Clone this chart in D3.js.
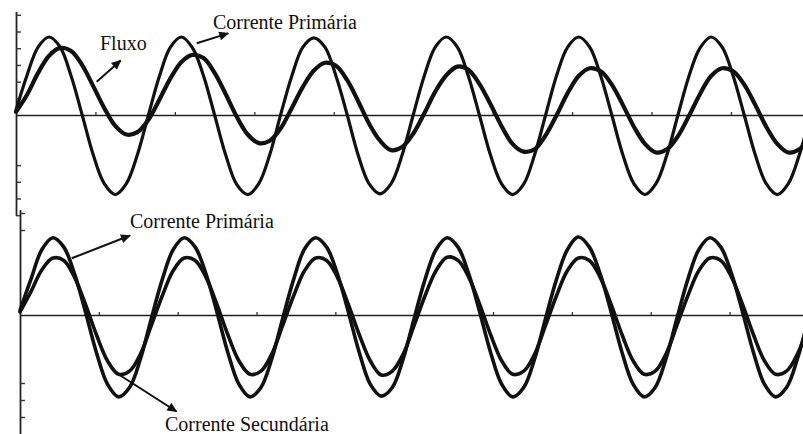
<!DOCTYPE html>
<html>
<head>
<meta charset="utf-8">
<script src="https://cdn.jsdelivr.net/npm/d3@7"></script>
<style>
  html, body { margin: 0; padding: 0; background: #fff; overflow: hidden; }
  svg { display: block; }
</style>
</head>
<body>
<svg id="chart" width="803" height="434"></svg>
<script>
// Sample instants in ms (60 Hz supply, one sample every 30 electrical degrees)
const timeMs = [
  0, 1.39, 2.78, 4.17, 5.56, 6.94, 8.33, 9.72, 11.11, 12.50, 13.89, 15.28,
  16.67, 18.06, 19.44, 20.83, 22.22, 23.61, 25.00, 26.39, 27.78, 29.17, 30.56, 31.94,
  33.33, 34.72, 36.11, 37.50, 38.89, 40.28, 41.67, 43.06, 44.44, 45.83, 47.22, 48.61,
  50.00, 51.39, 52.78, 54.17, 55.56, 56.94, 58.33, 59.72, 61.11, 62.50, 63.89, 65.28,
  66.67, 68.06, 69.44, 70.83, 72.22, 73.61, 75.00, 76.39, 77.78, 79.17, 80.56, 81.94,
  83.33, 84.72, 86.11, 87.50, 88.89, 90.28, 91.67, 93.06, 94.44, 95.83, 97.22, 98.61,
  100.00
];

// Upper oscillogram: primary current and core flux (per unit)
const primaryTop = [
  0.06, 0.51, 0.87, 1.00, 0.87, 0.50, 0.00, -0.51, -0.88, -1.02, -0.88, -0.51,
  0.00, 0.50, 0.87, 1.00, 0.86, 0.50, 0.00, -0.51, -0.89, -1.02, -0.88, -0.51,
  0.01, 0.50, 0.87, 0.99, 0.87, 0.50, 0.01, -0.51, -0.88, -1.01, -0.88, -0.51,
  0.00, 0.50, 0.87, 1.00, 0.87, 0.50, 0.00, -0.51, -0.88, -1.02, -0.89, -0.51,
  0.00, 0.51, 0.87, 1.00, 0.87, 0.50, 0.00, -0.51, -0.88, -1.02, -0.88, -0.51,
  0.00, 0.50, 0.86, 1.00, 0.87, 0.50, 0.00, -0.51, -0.88, -1.02, -0.88, -0.51,
  0.00
];
const fluxTop = [
  0.04, 0.26, 0.54, 0.76, 0.86, 0.82, 0.64, 0.37, 0.09, -0.14, -0.25, -0.22,
  -0.06, 0.20, 0.47, 0.68, 0.77, 0.73, 0.54, 0.27, -0.02, -0.25, -0.36, -0.33,
  -0.17, 0.09, 0.36, 0.57, 0.67, 0.63, 0.45, 0.18, -0.11, -0.33, -0.45, -0.41,
  -0.24, 0.02, 0.30, 0.51, 0.62, 0.58, 0.40, 0.14, -0.14, -0.37, -0.47, -0.44,
  -0.26, 0.00, 0.28, 0.50, 0.60, 0.56, 0.39, 0.13, -0.15, -0.37, -0.48, -0.44,
  -0.27, -0.01, 0.27, 0.50, 0.60, 0.56, 0.39, 0.13, -0.15, -0.37, -0.48, -0.44,
  -0.27
];

// Lower oscillogram: primary and secondary currents (per unit)
const primaryBottom = [
  0.06, 0.46, 0.84, 0.99, 0.87, 0.52, 0.03, -0.49, -0.89, -1.05, -0.93, -0.56,
  -0.04, 0.46, 0.84, 0.99, 0.87, 0.52, 0.03, -0.49, -0.89, -1.05, -0.93, -0.56,
  -0.04, 0.46, 0.85, 0.99, 0.87, 0.52, 0.03, -0.49, -0.89, -1.04, -0.93, -0.56,
  -0.04, 0.46, 0.84, 0.99, 0.87, 0.52, 0.03, -0.49, -0.89, -1.05, -0.93, -0.56,
  -0.04, 0.46, 0.84, 1.00, 0.87, 0.52, 0.03, -0.49, -0.89, -1.05, -0.93, -0.56,
  -0.04, 0.46, 0.84, 0.99, 0.87, 0.52, 0.03, -0.49, -0.89, -1.05, -0.93, -0.56,
  -0.04
];
const secondaryBottom = [
  0.04, 0.30, 0.58, 0.73, 0.70, 0.48, 0.13, -0.26, -0.59, -0.76, -0.72, -0.50,
  -0.13, 0.25, 0.57, 0.73, 0.70, 0.48, 0.13, -0.26, -0.59, -0.76, -0.72, -0.50,
  -0.13, 0.25, 0.57, 0.73, 0.70, 0.48, 0.13, -0.26, -0.59, -0.77, -0.72, -0.50,
  -0.13, 0.25, 0.57, 0.74, 0.70, 0.48, 0.13, -0.26, -0.59, -0.76, -0.72, -0.50,
  -0.13, 0.25, 0.57, 0.73, 0.70, 0.48, 0.13, -0.26, -0.59, -0.76, -0.72, -0.50,
  -0.13, 0.25, 0.57, 0.73, 0.70, 0.48, 0.13, -0.26, -0.59, -0.76, -0.72, -0.50,
  -0.13
];

// Graticule marks: time ticks (ms) and vertical divisions
const timeTicks = [10, 20, 30, 40, 50, 60, 70, 80, 90];
const divTicksTop = [6, 5, 4, 3, 2, 1, -3, -4, -5, -6];
const divTicksBottom = [6, 5, -4, -5, -6];

// Labelled arrows, in each trace's own (ms, per unit) coordinates
const notes = [
  { panel: 0, text: "Fluxo", at: [10.57, 0.833], tail: [10.16, 0.427], head: [13.18, 0.699] },
  { panel: 0, text: "Corrente Primária", at: [24.80, 1.103], tail: [22.75, 0.919], head: [26.72, 1.047] },
  { panel: 1, text: "Corrente Primária", at: [13.95, 1.115], tail: [6.56, 0.727], head: [13.95, 1.019] },
  { panel: 1, text: "Corrente Secundária", at: [18.39, -1.487], tail: [12.43, -0.756], head: [19.85, -1.237] }
];

const svg = d3.select("#chart");
const ink = "#111";

// One set of scales per oscillogram
const panels = [
  {
    x: d3.scaleLinear().domain([0, 100]).range([16, 810.4]),
    y: d3.scaleLinear().domain([-1, 1]).range([193, 37]),
    div: d3.scaleLinear().domain([-6, 6.2]).range([215.2, 11.5]),
    divTicks: divTicksTop,
    series: [
      { values: primaryTop, width: 3.2 },
      { values: fluxTop, width: 4.2 }
    ]
  },
  {
    x: d3.scaleLinear().domain([0, 100]).range([20, 808.4]),
    y: d3.scaleLinear().domain([-1, 1]).range([393, 237]),
    div: d3.scaleLinear().domain([-7.1, 6.2]).range([435.7, 209.6]),
    divTicks: divTicksBottom,
    series: [
      { values: primaryBottom, width: 3.6 },
      { values: secondaryBottom, width: 3.6 }
    ]
  }
];

svg.append("defs").append("marker")
  .attr("id", "arrow")
  .attr("viewBox", "0 -5 10 10")
  .attr("refX", 9).attr("refY", 0)
  .attr("markerUnits", "userSpaceOnUse")
  .attr("markerWidth", 12).attr("markerHeight", 10)
  .attr("orient", "auto")
  .append("path")
  .attr("d", "M0,-4.5L10,0L0,4.5Z")
  .attr("fill", ink);

panels.forEach(p => {
  // time axis along the zero line, small marks pointing up
  const gx = svg.append("g")
    .attr("transform", `translate(0,${p.y(0)})`)
    .call(d3.axisTop(p.x).tickValues(timeTicks).tickSize(3).tickSizeOuter(0).tickFormat(""));
  gx.select(".domain").attr("stroke", "#222").attr("stroke-width", 1.6);
  gx.selectAll(".tick line").attr("stroke", "#333").attr("stroke-width", 1.3);

  // vertical axis with division marks on its right
  const gy = svg.append("g")
    .attr("transform", `translate(${p.x(0)},0)`)
    .call(d3.axisRight(p.div).tickValues(p.divTicks).tickSize(5).tickSizeOuter(0).tickFormat(""));
  gy.select(".domain").attr("stroke", "#222").attr("stroke-width", 1.8);
  gy.selectAll(".tick line").attr("stroke", "#333").attr("stroke-width", 1.4);

  const line = d3.line()
    .x((d, i) => p.x(timeMs[i]))
    .y(d => p.y(d))
    .curve(d3.curveCatmullRom.alpha(0.5));

  p.series.forEach(s => {
    svg.append("path")
      .datum(s.values)
      .attr("d", line)
      .attr("fill", "none")
      .attr("stroke", ink)
      .attr("stroke-width", s.width)
      .attr("stroke-linejoin", "round")
      .attr("stroke-linecap", "round");
  });
});

notes.forEach(n => {
  const p = panels[n.panel];
  svg.append("line")
    .attr("x1", p.x(n.tail[0])).attr("y1", p.y(n.tail[1]))
    .attr("x2", p.x(n.head[0])).attr("y2", p.y(n.head[1]))
    .attr("stroke", ink).attr("stroke-width", 2)
    .attr("marker-end", "url(#arrow)");
  svg.append("text")
    .attr("x", p.x(n.at[0])).attr("y", p.y(n.at[1]))
    .attr("font-family", "'Liberation Serif', 'Times New Roman', serif")
    .attr("font-size", 20)
    .attr("fill", ink)
    .text(n.text);
});
</script>
</body>
</html>
